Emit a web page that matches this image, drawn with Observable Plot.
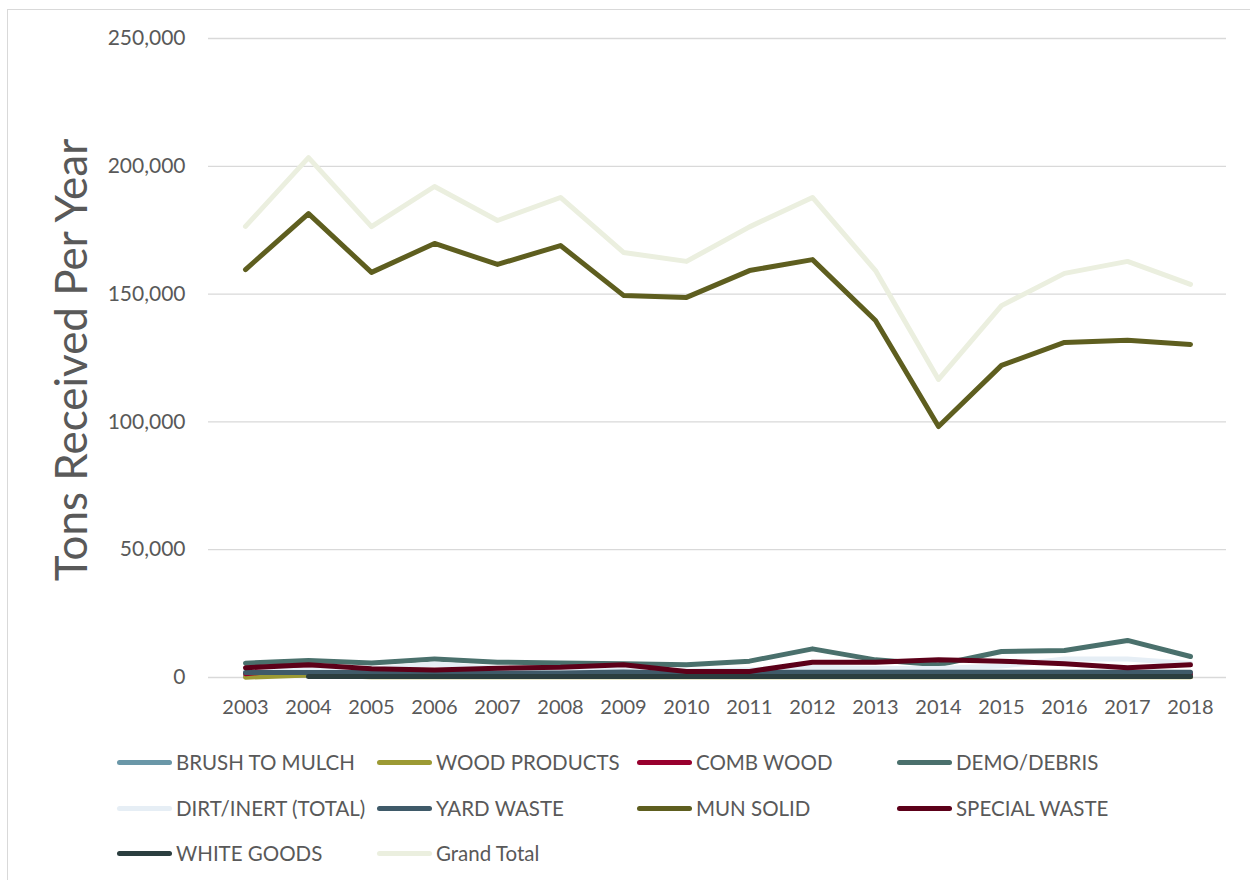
<!DOCTYPE html>
<html>
<head>
<meta charset="utf-8">
<script src="https://cdn.jsdelivr.net/npm/d3@7"></script>
<script src="https://cdn.jsdelivr.net/npm/@observablehq/plot@0.6"></script>
<style>
  html, body { margin: 0; padding: 0; background: #fff; }
  body { width: 1250px; height: 880px; position: relative; overflow: hidden; font-family: Lato, "Open Sans", sans-serif; }
  #frame { position: absolute; left: 7px; top: 9px; width: 1300px; height: 900px; border: 1px solid #d9d9d9; box-sizing: border-box; }
  #chart { position: absolute; left: 0; top: 0; }
  .leg { position: absolute; display: flex; align-items: center; font-size: 20.5px; color: #595959; white-space: nowrap; }
  .sw { width: 55px; height: 5px; border-radius: 3px; margin-right: 4px; }
</style>
</head>
<body>
<div id="frame"></div>
<div id="chart"></div>
<div id="legend"></div>
<script>
const years = ["2003","2004","2005","2006","2007","2008","2009","2010","2011","2012","2013","2014","2015","2016","2017","2018"];
const seriesNames = ["BRUSH TO MULCH","WOOD PRODUCTS","COMB WOOD","DEMO/DEBRIS","DIRT/INERT (TOTAL)","YARD WASTE","MUN SOLID","SPECIAL WASTE","WHITE GOODS","Grand Total"];
const seriesColors = ["#6a97a8","#9c9a34","#98002e","#4a706c","#e6eef5","#3f5a69","#5e5e1f","#5c0019","#2b3e3f","#ebefdf"];

const brushToMulch = [800, 1000, 800, 800, 700, 700, 800, 700, 800, 800, 700, 700, 800, 800, 800, 800];
const woodProducts = [100, 1000, 300, 300, 300, 300, 300, 300, 300, 300, 300, 300, 300, 300, 300, 300];
const combWood = [1500, 3500, 1500, 1500, 1500, 1500, 1500, 1200, 1200, 1500, 1500, 1500, 1500, 1500, 1500, 1500];
const demoDebris = [5600, 6650, 5700, 7200, 6000, 5700, 5350, 5000, 6400, 11200, 6900, 5000, 10200, 10550, 14500, 8200];
const dirtInert = [2500, 3000, 3300, 5300, 3500, 3000, 3000, 2500, 3000, 4000, 3500, 3500, 4500, 7200, 7200, 5500];
const yardWaste = [2000, 2000, 2000, 2000, 1800, 1800, 2200, 1700, 2000, 2100, 2100, 2100, 2100, 2100, 2100, 2100];
const munSolid = [159600, 181500, 158500, 169800, 161600, 169000, 149500, 148700, 159200, 163500, 139700, 98200, 122100, 131100, 131900, 130300];
const specialWaste = [3800, 5000, 3400, 2900, 3650, 4000, 5000, 2350, 2350, 6000, 6000, 6900, 6400, 5350, 3800, 4950];
const whiteGoods = [null, 400, 400, 400, 400, 400, 400, 400, 400, 400, 400, 400, 400, 400, 400, 400];
const grandTotal = [176500, 203400, 176400, 192100, 178800, 187800, 166300, 162800, 176300, 187800, 159200, 116600, 145500, 158100, 162800, 153800];

const yTicks = [0, 50000, 100000, 150000, 200000, 250000];
const yTitle = "Tons Received Per Year";

const seriesValues = [brushToMulch, woodProducts, combWood, demoDebris, dirtInert, yardWaste, munSolid, specialWaste, whiteGoods, grandTotal];

const rows = [];
seriesNames.forEach((name, i) => {
  years.forEach((yr, j) => rows.push({series: name, year: yr, value: seriesValues[i][j]}));
});

const chart = Plot.plot({
  width: 1250,
  height: 720,
  marginTop: 38,
  marginBottom: 43,
  marginLeft: 208,
  marginRight: 24,
  style: { fontFamily: "Lato, 'Open Sans', sans-serif", fontSize: "21px", color: "#595959", background: "transparent" },
  x: { type: "point", domain: years, padding: 0.5, label: null },
  y: { domain: [0, 250000], label: null },
  color: { domain: seriesNames, range: seriesColors },
  marks: [
    Plot.ruleY(yTicks, { stroke: "#d9d9d9", strokeWidth: 1.3 }),
    Plot.axisY(yTicks, { tickSize: 0, tickPadding: 23, tickFormat: d3.format(","), label: null, fontSize: 21, fill: "#595959" }),
    Plot.axisX(years, { tickSize: 0, tickPadding: 22, label: null, fontSize: 20, fill: "#595959" }),
    Plot.line(rows, { x: "year", y: "value", z: "series", stroke: "series", strokeWidth: 5, strokeLinecap: "round", strokeLinejoin: "round", defined: d => d.value != null }),
    Plot.text([yTitle], { frameAnchor: "left", textAnchor: "middle", rotate: -90, dx: -136, dy: 2, fontSize: 44, fill: "#595959" })
  ]
});
document.getElementById("chart").appendChild(chart);

const legendPos = [
  [117, 762], [377, 762], [637, 762], [897, 762],
  [117, 808], [377, 808], [637, 808], [897, 808],
  [117, 853], [377, 853]
];
const legend = document.getElementById("legend");
seriesNames.forEach((name, i) => {
  const el = document.createElement("div");
  el.className = "leg";
  el.style.left = legendPos[i][0] + "px";
  el.style.top = (legendPos[i][1] - 12) + "px";
  el.style.height = "24px";
  const sw = document.createElement("div");
  sw.className = "sw";
  sw.style.background = seriesColors[i];
  const tx = document.createElement("span");
  tx.textContent = name;
  el.appendChild(sw);
  el.appendChild(tx);
  legend.appendChild(el);
});
</script>
</body>
</html>
